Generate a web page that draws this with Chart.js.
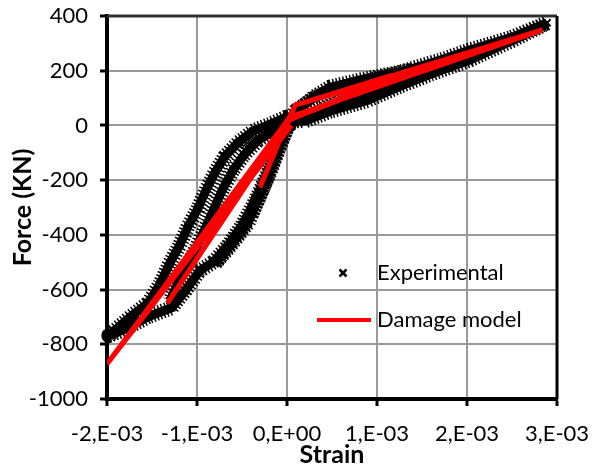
<!DOCTYPE html>
<html>
<head>
<meta charset="utf-8">
<script src="https://cdn.jsdelivr.net/npm/chart.js@4/dist/chart.umd.min.js"></script>
<style>
  html, body { margin: 0; padding: 0; background: #fff; }
</style>
</head>
<body>
<canvas id="chart" width="594" height="470"></canvas>
<script>
// Strain is kept in units of 1e-3 (converted when the datasets are built), force in kN
const expStrain = [
  0.00, 0.10, 0.30, 0.50, 0.80, 1.10, 1.35,
  1.30, 1.00, 0.70, 0.40, 0.15, 0.01,
  -0.10, -0.19, -0.32, -0.43, -0.58, -0.72, -0.80,
  -0.70, -0.55, -0.40, -0.28, -0.15, 0.00,
  0.14, 0.30, 0.48, 0.80, 1.26, 1.70, 2.03, 2.50, 2.89,
  2.82, 2.50, 2.03, 1.60, 1.26, 0.90, 0.48, 0.20,
  -0.01, -0.19, -0.38, -0.54, -0.69, -0.80, -0.89, -0.99, -1.10, -1.19, -1.30, -1.41, -1.54, -1.74, -1.92, -1.98,
  -1.80, -1.55, -1.28, -1.13, -0.97, -0.82,
  -0.66, -0.50, -0.35, -0.20, -0.06, 0.05,
  -0.13, -0.32, -0.48, -0.60, -0.71, -0.82, -0.93, -1.05, -1.19, -1.30
];
const expForce = [
  0, 55, 100, 128, 155, 180, 200,
  180, 138, 100, 60, 25, 0,
  -91, -172, -267, -355, -421, -476, -505,
  -462, -400, -330, -240, -130, -10,
  60, 105, 140, 165, 195, 238, 276, 322, 375,
  362, 310, 239, 188, 144, 92, 52, 16,
  30, 4, -21, -62, -113, -172, -230, -304, -370, -436, -502, -579, -648, -699, -751, -768,
  -745, -700, -666, -604, -531, -500,
  -440, -365, -275, -165, -45, 20,
  -18, -54, -109, -164, -230, -311, -392, -476, -560, -641
];

const modelStrain = [0, 0.09, 1.17, 0.00, -0.30, 0.00, 0.09, 1.34, 0.02, -1.33, 0.00, 0.09, 2.84, 0.03, -2.00, 0.05];
const modelForce  = [0, 74, 184, 15, -226, 10, 74, 191, 20, -650, 5, 74, 349, 30, -872, 0];

const seriesNames = ['Experimental', 'Damage model'];

const xTickValues = [-2e-3, -1e-3, 0, 1e-3, 2e-3, 3e-3];
const xTickLabels = ['-2,E-03', '-1,E-03', '0,E+00', '1,E-03', '2,E-03', '3,E-03'];
const yTickValues = [-1000, -800, -600, -400, -200, 0, 200, 400];
const yTickLabels = ['-1000', '-800', '-600', '-400', '-200', '0', '200', '400'];

const FONT = 'Lato, "Open Sans", sans-serif';

// builds {x, y} points from the two arrays
function toPoints(strain, force) {
  return strain.map((s, i) => ({ x: s * 1e-3, y: force[i] }));
}

// The measured curve is a dense cloud of x markers: a wide dashed stroke
// under the dataset line gives the same ragged band edge
const fuzzPlugin = {
  id: 'fuzz',
  beforeDatasetDraw(chart, args) {
    const ds = chart.data.datasets[args.index];
    if (!ds.fuzzy) return;
    const ctx = chart.ctx;
    const pts = args.meta.data;
    ctx.save();
    ctx.beginPath();
    pts.forEach((p, i) => (i ? ctx.lineTo(p.x, p.y) : ctx.moveTo(p.x, p.y)));
    ctx.setLineDash([1.5, 2]);
    ctx.lineWidth = 15;
    ctx.lineJoin = 'round';
    ctx.strokeStyle = '#000';
    ctx.stroke();
    ctx.restore();
  }
};

// Draws the top and right frame lines of the plot area
const framePlugin = {
  id: 'frame',
  afterDatasetsDraw(chart) {
    const { ctx, chartArea: a } = chart;
    ctx.save();
    ctx.lineWidth = 3;
    ctx.strokeStyle = '#303030';
    ctx.beginPath();
    ctx.moveTo(a.left, a.top);
    ctx.lineTo(a.right, a.top);
    ctx.stroke();
    ctx.strokeStyle = '#000';
    ctx.beginPath();
    ctx.moveTo(a.right, a.top);
    ctx.lineTo(a.right, a.bottom);
    ctx.stroke();
    ctx.restore();
  }
};

// Legend sits inside the plot area, no background
const insideLegend = {
  id: 'insideLegend',
  afterDraw(chart) {
    const { ctx, chartArea: a } = chart;
    const textX = a.left + 270;
    const row1 = a.top + 257;
    const row2 = a.top + 304;
    ctx.save();
    // cross marker
    ctx.strokeStyle = '#000';
    ctx.lineWidth = 2.5;
    const mx = a.left + 236, r = 3.5;
    ctx.beginPath();
    ctx.moveTo(mx - r, row1 - r); ctx.lineTo(mx + r, row1 + r);
    ctx.moveTo(mx + r, row1 - r); ctx.lineTo(mx - r, row1 + r);
    ctx.stroke();
    // red line
    ctx.strokeStyle = '#ff0000';
    ctx.lineWidth = 4;
    ctx.beginPath();
    ctx.moveTo(a.left + 210, row2);
    ctx.lineTo(a.left + 264, row2);
    ctx.stroke();
    ctx.fillStyle = '#000';
    ctx.font = '22px ' + FONT;
    ctx.textBaseline = 'middle';
    ctx.textAlign = 'left';
    ctx.fillText(seriesNames[0], textX, row1);
    ctx.fillText(seriesNames[1], textX, row2);
    ctx.restore();
  }
};

const gridStyle = { color: '#999999', lineWidth: 2, tickColor: '#000', tickLength: 7, tickWidth: 3 };
const borderStyle = { display: true, color: '#000', width: 4 };

new Chart(document.getElementById('chart'), {
  type: 'scatter',
  data: {
    datasets: [
      {
        label: seriesNames[1],
        data: toPoints(modelStrain, modelForce),
        showLine: true,
        borderColor: '#ff0000',
        borderWidth: 5,
        pointRadius: 0,
        order: 0
      },
      {
        label: seriesNames[0],
        data: toPoints(expStrain, expForce),
        showLine: true,
        fuzzy: true,
        borderColor: '#000',
        borderWidth: 9,
        pointStyle: 'crossRot',
        pointRadius: 5,
        pointBorderWidth: 2,
        pointBorderColor: '#000',
        pointBackgroundColor: '#000',
        order: 1
      }
    ]
  },
  options: {
    responsive: false,
    animation: false,
    layout: { padding: { left: 8, top: 16, right: 37, bottom: 0 } },
    plugins: { legend: { display: false }, tooltip: { enabled: false } },
    scales: {
      x: {
        type: 'linear',
        min: -2e-3,
        max: 3e-3,
        afterBuildTicks(axis) { axis.ticks = xTickValues.map(v => ({ value: v })); },
        afterFit(scale) { scale.height = 71; scale.paddingLeft = 0; scale.paddingRight = 0; },
        ticks: {
          callback: (v, i) => xTickLabels[i],
          color: '#000',
          font: { family: FONT, size: 22 },
          padding: 15,
          maxRotation: 0,
          autoSkip: false
        },
        grid: gridStyle,
        border: borderStyle,
        title: { display: true, text: 'Strain', color: '#000', font: { family: FONT, size: 25, weight: 'bold' }, padding: 0 }
      },
      y: {
        min: -1000,
        max: 400,
        afterBuildTicks(axis) { axis.ticks = yTickValues.map(v => ({ value: v })); },
        afterFit(scale) { scale.width = 99; scale.paddingTop = 0; scale.paddingBottom = 0; },
        ticks: {
          callback: (v, i) => yTickLabels[i],
          color: '#000',
          font: { family: FONT, size: 22 },
          padding: 12
        },
        grid: gridStyle,
        border: borderStyle,
        title: { display: true, text: 'Force (KN)', color: '#000', font: { family: FONT, size: 25, weight: 'bold' }, padding: 0 }
      }
    }
  },
  plugins: [fuzzPlugin, framePlugin, insideLegend]
});
</script>
</body>
</html>
